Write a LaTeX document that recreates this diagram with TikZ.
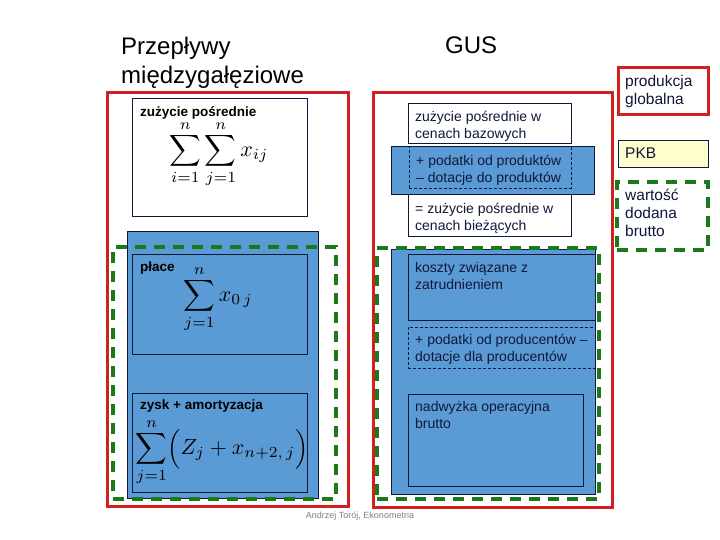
\documentclass[tikz,border=0pt]{standalone}
\usepackage{amsmath}
\usepackage[no-math]{fontspec}
\setmainfont{Liberation Sans}
\definecolor{redb}{HTML}{D02020}
\definecolor{greenb}{HTML}{1A7A1A}
\definecolor{blueb}{HTML}{5B9BD5}
\definecolor{pkbfill}{HTML}{FFFFCC}
\definecolor{navy}{HTML}{10183A}
\newcommand{\bx}[6]{\node[#1, anchor=north west, inner sep=0pt, outer sep=0pt,
  minimum width={#5-#3}, minimum height={#6-#4}] (#2) at (#3,#4) {};}
\begin{document}
\begin{tikzpicture}[x=1pt,y=-1pt,
  redbox/.style={draw=redb,line width=3pt},
  greenbox/.style={draw=greenb,line width=4pt,dash pattern=on 11pt off 8pt},
  bluebox/.style={draw=navy,fill=blueb,line width=0.9pt},
  whitebox/.style={draw=navy,fill=white,line width=0.9pt},
  thinbox/.style={draw=navy,line width=0.9pt},
  dashbox/.style={draw=navy,line width=0.7pt,dash pattern=on 3pt off 2pt},
  pkbbox/.style={draw=navy,fill=pkbfill,line width=0.9pt},
  lbl/.style={anchor=north west,inner sep=0pt,align=left,text=navy,font=\fontsize{14}{17}\selectfont},
  rlbl/.style={anchor=north west,inner sep=0pt,align=left,text=navy,font=\fontsize{15.5}{18}\selectfont},
  blbl/.style={anchor=north west,inner sep=0pt,align=left,font=\fontsize{13.5}{16}\selectfont\bfseries},
  title/.style={anchor=north west,inner sep=0pt,align=left,font=\fontsize{24}{29}\selectfont},
  formula/.style={inner sep=0pt,scale=2.2,font=\fontsize{10}{12}\selectfont},
]
\useasboundingbox[fill=white] (0,0) rectangle (720,540);

% titles
\node[title] (t1) at (121,37) {Przepływy\\międzygałęziowe};
\node[title] (t2) at (445,37) {GUS};

% ---- left column
\bx{redbox}{Lred}{107}{93}{348}{506}
\bx{whitebox}{Lzp}{132}{98}{307}{216}
\bx{bluebox}{Lblue}{127}{231}{318}{498}
\bx{thinbox}{Lpl}{132}{254}{307}{354}
\bx{thinbox}{Lzy}{132}{393}{307}{492}
\bx{greenbox}{Lgreen}{113}{247}{336}{499}

\node[blbl] (lzpt) at ([xshift=8pt,yshift=-8pt]Lzp.north west) {zużycie pośrednie};
\node[blbl] (lplt) at ([xshift=8pt,yshift=-8pt]Lpl.north west) {płace};
\node[blbl] (lzyt) at ([xshift=8pt,yshift=-7pt]Lzy.north west) {zysk + amortyzacja};

\node[formula] (f1) at (219,154) {$\displaystyle\sum_{i=1}^{n}\sum_{j=1}^{n}x_{ij}$};
\node[formula] (f2) at (218,299) {$\displaystyle\sum_{j=1}^{n}x_{0\,j}$};
\node[formula] (f3) at (222,452) {$\displaystyle\sum_{j=1}^{n}\Bigl(Z_{j}+x_{n+2,\,j}\Bigr)$};

% ---- middle column
\bx{redbox}{Rred}{373}{93}{612}{507}
\bx{whitebox}{Rb1}{408}{103}{571}{143}
\bx{bluebox}{Rb2}{391}{146}{594}{194}
\bx{dashbox}{Rb2d}{409}{146}{571}{188}
\bx{whitebox}{Rb3}{408}{194}{571}{236}
\bx{bluebox}{Rblue}{391}{249}{595}{494}
\bx{thinbox}{Rk}{408}{254}{595}{320}
\bx{dashbox}{Rp}{408}{327}{595}{368}
\bx{thinbox}{Rn}{408}{394}{583}{486}
\bx{greenbox}{Rgreen}{377}{248}{599}{499}

\node[lbl] (rb1t) at ([xshift=7pt,yshift=-8pt]Rb1.north west) {zużycie pośrednie w\\cenach bazowych};
\node[lbl] (rb2t) at ([xshift=7pt,yshift=-9pt]Rb2d.north west) {+ podatki od produktów\\– dotacje do produktów};
\node[lbl] (rb3t) at ([xshift=7pt,yshift=-9pt]Rb3.north west) {= zużycie pośrednie w\\cenach bieżących};
\node[lbl] (rkt) at ([xshift=7pt,yshift=-8pt]Rk.north west) {koszty związane z\\zatrudnieniem};
\node[lbl] (rpt) at ([xshift=7pt,yshift=-7pt]Rp.north west) {+ podatki od producentów –\\dotacje dla producentów};
\node[lbl] (rnt) at ([xshift=7pt,yshift=-7pt]Rn.north west) {nadwyżka operacyjna\\brutto};

% ---- right column
\bx{redbox}{Pg}{618}{68}{708}{115}
\bx{pkbbox}{Pk}{618}{140}{708}{167}
\bx{greenbox}{Wd}{617}{182}{708}{250}
\node[rlbl] (pgt) at ([xshift=7pt,yshift=-7pt]Pg.north west) {produkcja\\globalna};
\node[rlbl] (pkt) at ([xshift=7pt,yshift=-8pt]Pk.north west) {PKB};
\node[rlbl] (wdt) at ([xshift=8pt,yshift=-7pt]Wd.north west) {wartość\\dodana\\brutto};

% footer
\node[anchor=base,inner sep=0pt,text=gray,font=\fontsize{9}{10}\selectfont] (foot) at (360,518) {Andrzej Torój, Ekonometria};
\end{tikzpicture}
\end{document}
